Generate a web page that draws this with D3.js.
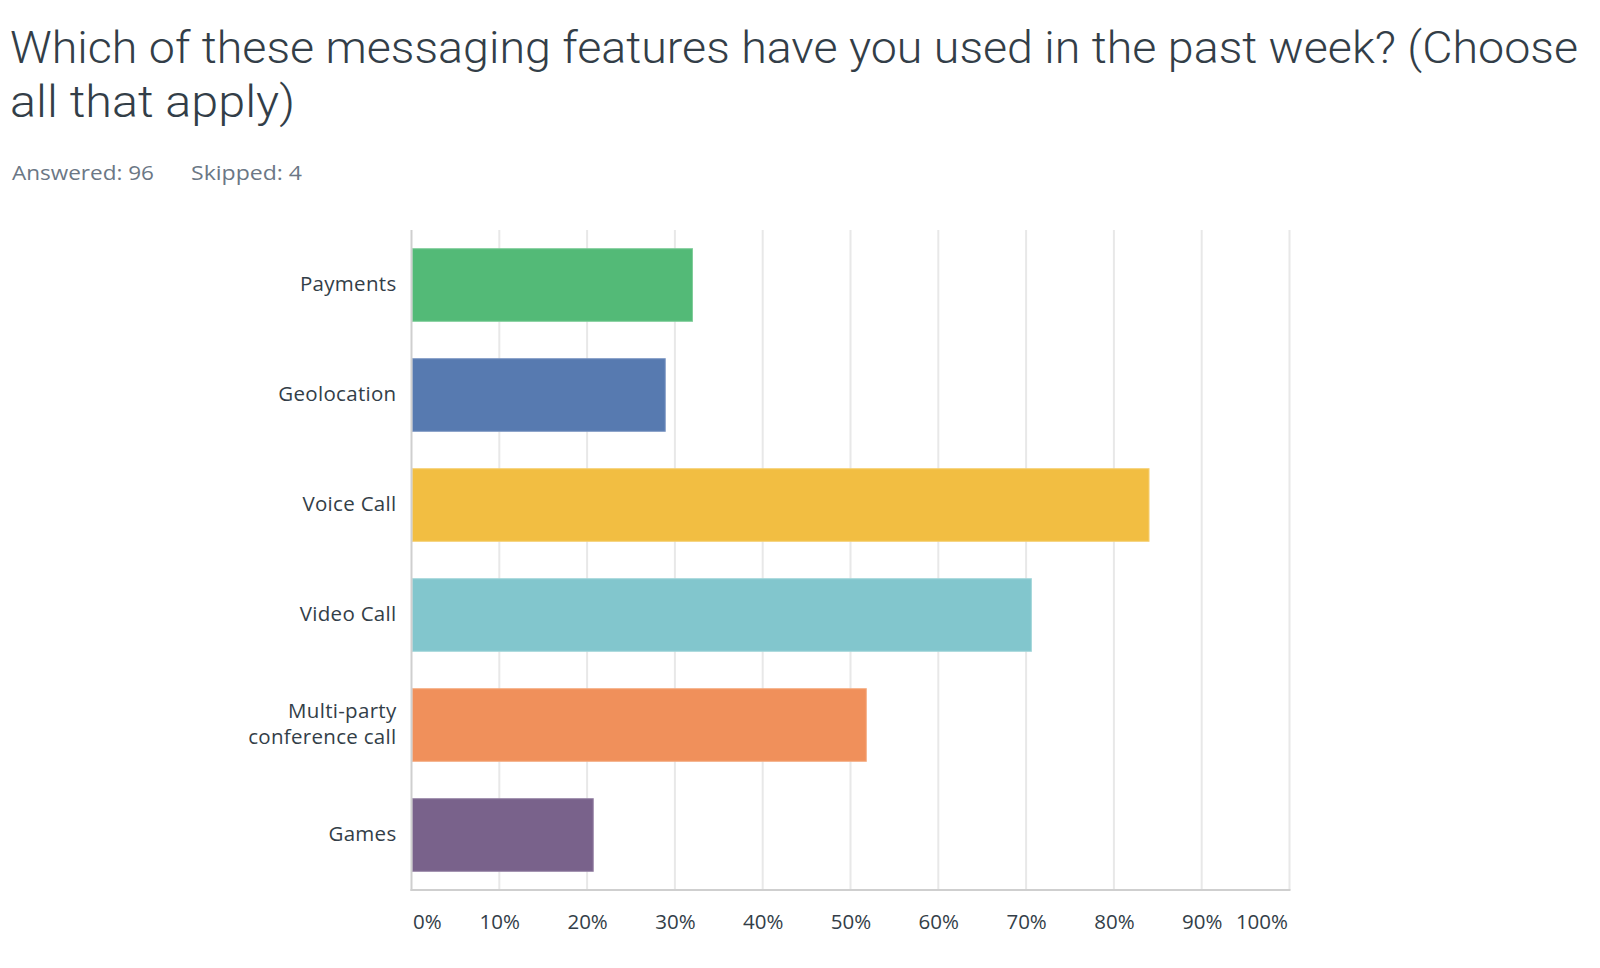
<!DOCTYPE html>
<html>
<head>
<meta charset="utf-8">
<script src="https://cdnjs.cloudflare.com/ajax/libs/d3/7.8.5/d3.min.js"></script>
<style>
  html, body { margin: 0; padding: 0; background: #ffffff; }
  svg { display: block; }
</style>
</head>
<body>
<div id="chart"></div>
<script>
const titleLines = ["Which of these messaging features have you used in the past week? (Choose", "all that apply)"];
const answeredText = "Answered: 96";
const skippedText = "Skipped: 4";
const categories = ["Payments", "Geolocation", "Voice Call", "Video Call", "Multi-party\nconference call", "Games"];
const values = [32.0, 28.9, 84.0, 70.6, 51.8, 20.7];
const colors = ["#53ba77", "#577ab0", "#f2be42", "#82c6cd", "#f0905b", "#79628b"];
const strokeColors = ["#7fcd99", "#7e98c4", "#f6d074", "#a3d6da", "#f4ad84", "#9885a7"];
const tickValues = [0, 10, 20, 30, 40, 50, 60, 70, 80, 90, 100];

const W = 1600, H = 968;
const svg = d3.select("#chart").append("svg").attr("width", W).attr("height", H);

const margin = { left: 411.5, right: W - 1289.5, top: 230, bottom: H - 890 };

// Title
const title = svg.append("g");
title.selectAll("text").data(titleLines).join("text")
  .attr("x", 10)
  .attr("y", (d, i) => 63 + i * 54)
  .attr("font-family", "Roboto, 'Open Sans', sans-serif")
  .attr("font-weight", 300)
  .attr("font-size", 44)
  .attr("fill", "#333e48")
  .attr("textLength", (d, i) => i === 0 ? 1568 : 285)
  .attr("lengthAdjust", "spacingAndGlyphs")
  .text(d => d);

// Subtitle
svg.append("text").attr("x", 12).attr("y", 180)
  .attr("font-family", "'Open Sans', sans-serif").attr("font-size", 20)
  .attr("fill", "#6b7785").attr("textLength", 142).attr("lengthAdjust", "spacingAndGlyphs")
  .text(answeredText);
svg.append("text").attr("x", 191).attr("y", 180)
  .attr("font-family", "'Open Sans', sans-serif").attr("font-size", 20)
  .attr("fill", "#6b7785").attr("textLength", 111).attr("lengthAdjust", "spacingAndGlyphs")
  .text(skippedText);

const x = d3.scaleLinear().domain([0, 100]).range([margin.left, W - margin.right]);
const y = d3.scaleBand().domain(categories).range([margin.top, H - margin.bottom])
  .paddingInner(0.34).paddingOuter(0.17);

// Gridlines
svg.append("g").selectAll("line").data(tickValues.filter(d => d > 0)).join("line")
  .attr("x1", d => x(d)).attr("x2", d => x(d))
  .attr("y1", margin.top).attr("y2", H - margin.bottom)
  .attr("stroke", "#e8e8e8").attr("stroke-width", 2);

// Bars
svg.append("g").selectAll("rect").data(categories).join("rect")
  .attr("x", x(0) + 1)
  .attr("y", d => y(d))
  .attr("width", (d, i) => x(values[i]) - x(0) - 1)
  .attr("height", y.bandwidth())
  .attr("fill", (d, i) => colors[i])
  .attr("stroke", (d, i) => strokeColors[i])
  .attr("stroke-width", 1);

// Left axis line
svg.append("line").attr("x1", x(0)).attr("x2", x(0))
  .attr("y1", margin.top).attr("y2", H - margin.bottom + 1)
  .attr("stroke", "#cfcfcf").attr("stroke-width", 2);
// Bottom axis line
svg.append("line").attr("x1", x(0) - 1).attr("x2", x(100) + 1)
  .attr("y1", H - margin.bottom).attr("y2", H - margin.bottom)
  .attr("stroke", "#cfcfcf").attr("stroke-width", 2);

// X tick labels via axis
const xAxis = d3.axisBottom(x).tickValues(tickValues).tickFormat(d => d + "%").tickSize(0).tickPadding(0);
const xg = svg.append("g").attr("transform", `translate(0, ${H - margin.bottom})`).call(xAxis);
xg.select(".domain").remove();
xg.selectAll("text")
  .attr("y", 39).attr("dy", 0)
  .attr("font-family", "'Open Sans', sans-serif").attr("font-size", 20.5)
  .attr("fill", "#333e48")
  .attr("text-anchor", d => d === 0 ? "start" : (d === 100 ? "end" : "middle"))
  .attr("dx", d => d === 0 ? 1 : (d === 100 ? -2 : 0));

// Y labels via axis
const yAxis = d3.axisLeft(y).tickSize(0).tickPadding(0).tickFormat("");
const yg = svg.append("g").attr("transform", `translate(${margin.left - 15}, 0)`).call(yAxis);
yg.select(".domain").remove();
yg.selectAll(".tick").each(function(d) {
  const lines = d.split("\n");
  const t = d3.select(this).append("text")
    .attr("text-anchor", "end")
    .attr("font-family", "'Open Sans', sans-serif").attr("font-size", 20.5)
    .attr("letter-spacing", 0.3)
    .attr("fill", "#333e48");
  lines.forEach((ln, i) => {
    t.append("tspan").attr("x", 0)
      .attr("y", (i - (lines.length - 1) / 2) * 25.6 + 6)
      .text(ln);
  });
});
</script>
</body>
</html>
